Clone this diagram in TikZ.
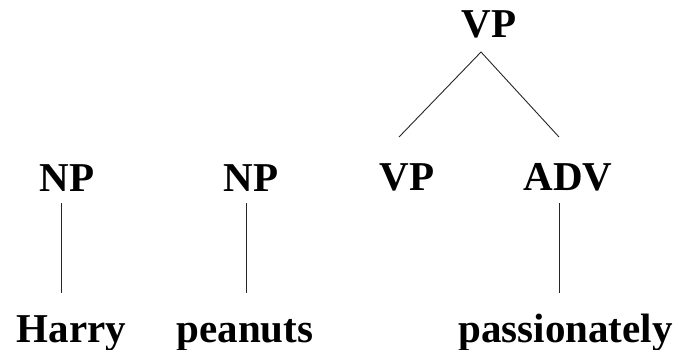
\documentclass[tikz,border=0pt]{standalone}
\usepackage{fontspec}
\setmainfont{Liberation Serif}
\begin{document}
\begin{tikzpicture}[x=1pt,y=-1pt,
  lbl/.style={anchor=base,inner sep=0pt,font=\fontsize{41}{41}\selectfont\bfseries},
  branch/.style={line width=0.9pt,black!85}]
\useasboundingbox (0,0) rectangle (684,350);
% category labels
\node[lbl] (vptop) at (489,38) {VP};
\node[lbl] (np1) at (67,191) {NP};
\node[lbl] (np2) at (251,191) {NP};
\node[lbl] (vp) at (407,190) {VP};
\node[lbl] (adv) at (568,190) {ADV};
% words
\node[lbl] (harry) at (71.5,342) {Harry};
\node[lbl] (peanuts) at (245,342) {peanuts};
\node[lbl] (passion) at (565.5,342) {passionately};
% branch end points
\coordinate (apex) at (481,52);
\coordinate (vpl) at (399,137);
\coordinate (advr) at (559,137);
\coordinate (np1t) at (61,203);
\coordinate (np1b) at (61,293);
\coordinate (np2t) at (246,203);
\coordinate (np2b) at (246,293);
\coordinate (advt) at (559,203);
\coordinate (advb) at (559,293);
% branches
\draw[branch] (vpl) -- (apex) -- (advr);
\draw[branch] (np1t) -- (np1b);
\draw[branch] (np2t) -- (np2b);
\draw[branch] (advt) -- (advb);
\end{tikzpicture}
\end{document}
